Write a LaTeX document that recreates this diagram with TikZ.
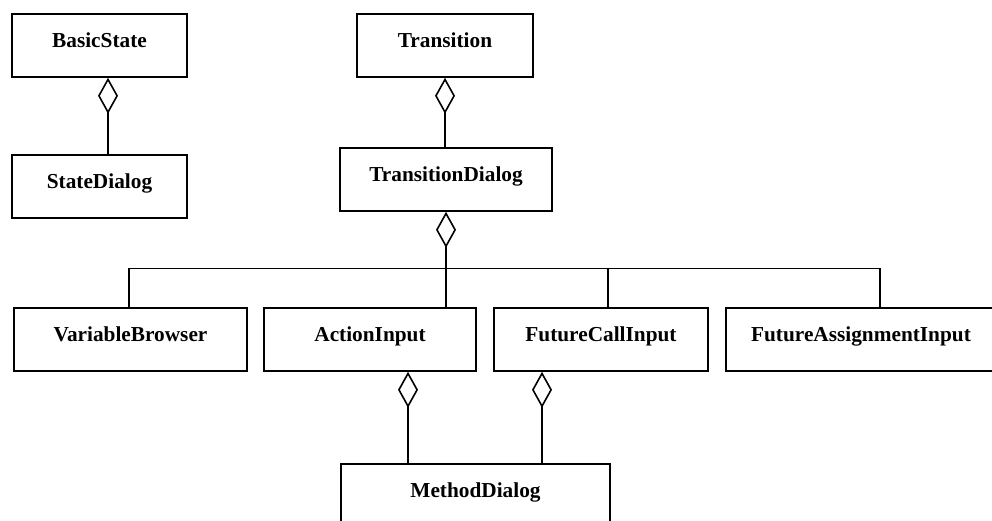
\documentclass[tikz,border=0pt]{standalone}
\usepackage{fontspec}
\setmainfont{Liberation Serif}
\usetikzlibrary{arrows.meta}
\begin{document}
\begin{tikzpicture}[x=1pt,y=-1pt,
  cls/.style={draw, line width=1.6pt, inner sep=0pt, minimum height=63pt,
    text height=14pt, text depth=10pt,
    font=\fontsize{21.3}{25}\selectfont\bfseries},
  link/.style={line width=1.6pt},
  agg/.style={link, -{Diamond[open, length=36pt, width=20pt, line width=1.6pt]}}]
\useasboundingbox (0,0) rectangle (992,521);

% classes
\node[cls, minimum width=175pt] (bs) at (99.5,45.5) {BasicState};
\node[cls, minimum width=175pt] (sd) at (99.5,186.5) {StateDialog};
\node[cls, minimum width=176pt] (tr) at (445,45.5) {Transition};
\node[cls, minimum width=212pt] (td) at (446,179.5) {TransitionDialog};
\node[cls, minimum width=233pt] (vb) at (130.5,339.5) {VariableBrowser};
\node[cls, minimum width=212pt] (ai) at (370,339.5) {ActionInput};
\node[cls, minimum width=214pt] (fc) at (601,339.5) {FutureCallInput};
\node[cls, minimum width=270pt] (fa) at (861,339.5) {FutureAssignmentInput};
\node[cls, minimum width=269pt] (md) at (475.5,495.5) {MethodDialog};

% bus junction below TransitionDialog
\coordinate (bus) at (446,268.5);

% aggregations
\draw[agg] ([xshift=8.5pt]sd.north) -- ([xshift=8.5pt]bs.south);
\draw[agg] (td.north -| tr.south) -- (tr.south);
\draw[agg] (bus) -- (td.south);
\draw[agg] ([xshift=-67.5pt]md.north) -- ([xshift=38pt]ai.south);
\draw[agg] ([xshift=66.5pt]md.north) -- ([xshift=-59pt]fc.south);

% tree to the dialog parts
\draw[link] ([xshift=-1.5pt]vb.north) |- (bus) -| ([xshift=19pt]fa.north);
\draw[link] (bus) -- (bus |- ai.north);
\draw[link] ([xshift=7pt]fc.north) -- ([xshift=7pt]fc.north |- bus);
\end{tikzpicture}
\end{document}
